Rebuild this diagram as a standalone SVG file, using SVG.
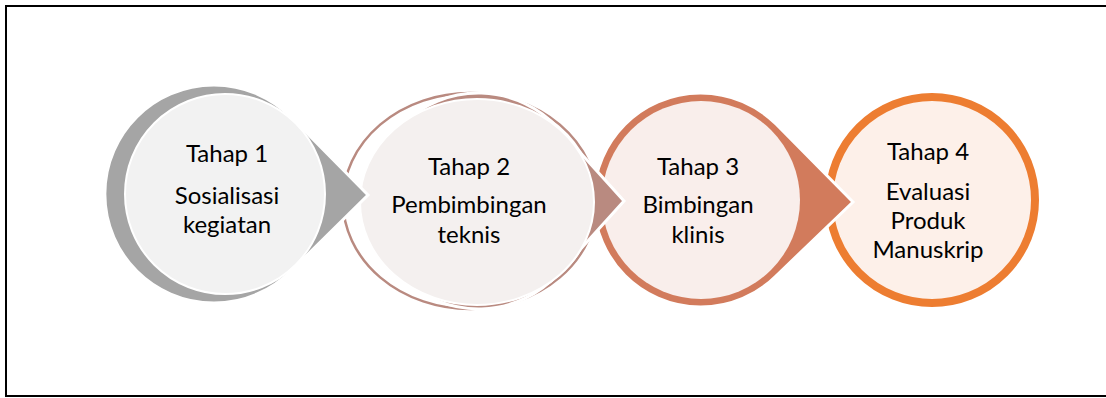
<svg xmlns="http://www.w3.org/2000/svg" width="1106" height="398" viewBox="0 0 1106 398">
  <style>
    .t { font-family: Lato, "Open Sans", "Liberation Sans", sans-serif; font-size: 24px; fill: #000; text-anchor: middle; }
    .edge { stroke: #ffffff; stroke-width: 3; stroke-linejoin: miter; }
  </style>
  <rect x="0" y="0" width="1106" height="398" fill="#ffffff"/>
  <path d="M 1108 6 H 6 V 396 H 1108" fill="none" stroke="#000" stroke-width="2"/>

  <g id="connectors"></g>

  <g id="node4">
    <circle cx="932" cy="200" r="103" fill="#fdf0e9" stroke="#ed7d31" stroke-width="8"/>
    <text class="t" x="928" y="160">Tahap 4</text>
    <text class="t" x="928" y="200">Evaluasi</text>
    <text class="t" x="928" y="229">Produk</text>
    <text class="t" x="928" y="258">Manuskrip</text>
  </g>

  <g id="node3">
    <path class="edge" d="M 853 202 L 776 124 A 107 107 0 1 0 776 276 Z" fill="#d27b5c"/>
    <circle cx="701" cy="200" r="99" fill="#f9eeeb"/>
    <text class="t" x="698" y="175">Tahap 3</text>
    <text class="t" x="698" y="213">Bimbingan</text>
    <text class="t" x="698" y="243">klinis</text>
  </g>

  <g id="node2">
    <ellipse cx="470" cy="201" rx="127" ry="108" fill="none" stroke="#b98a80" stroke-width="2.5"/>
    <path class="edge" d="M 624 201 L 558 128 A 108 108 0 1 0 558 274 Z" fill="#b98a80"/>
    <ellipse cx="477" cy="202" rx="117" ry="103" fill="#f4f0ef" stroke="#ffffff" stroke-width="2"/>
    <text class="t" x="469" y="175">Tahap 2</text>
    <text class="t" x="469" y="213">Pembimbingan</text>
    <text class="t" x="469" y="243">teknis</text>
  </g>

  <g id="node1">
    <path class="edge" d="M 368 195 L 291 117 A 109 109 0 1 0 291 271 Z" fill="#a5a5a5"/>
    <circle cx="225" cy="194" r="100" fill="#f2f2f2" stroke="#ffffff" stroke-width="2"/>
    <text class="t" x="227" y="162">Tahap 1</text>
    <text class="t" x="227" y="204">Sosialisasi</text>
    <text class="t" x="227" y="233">kegiatan</text>
  </g>
</svg>
